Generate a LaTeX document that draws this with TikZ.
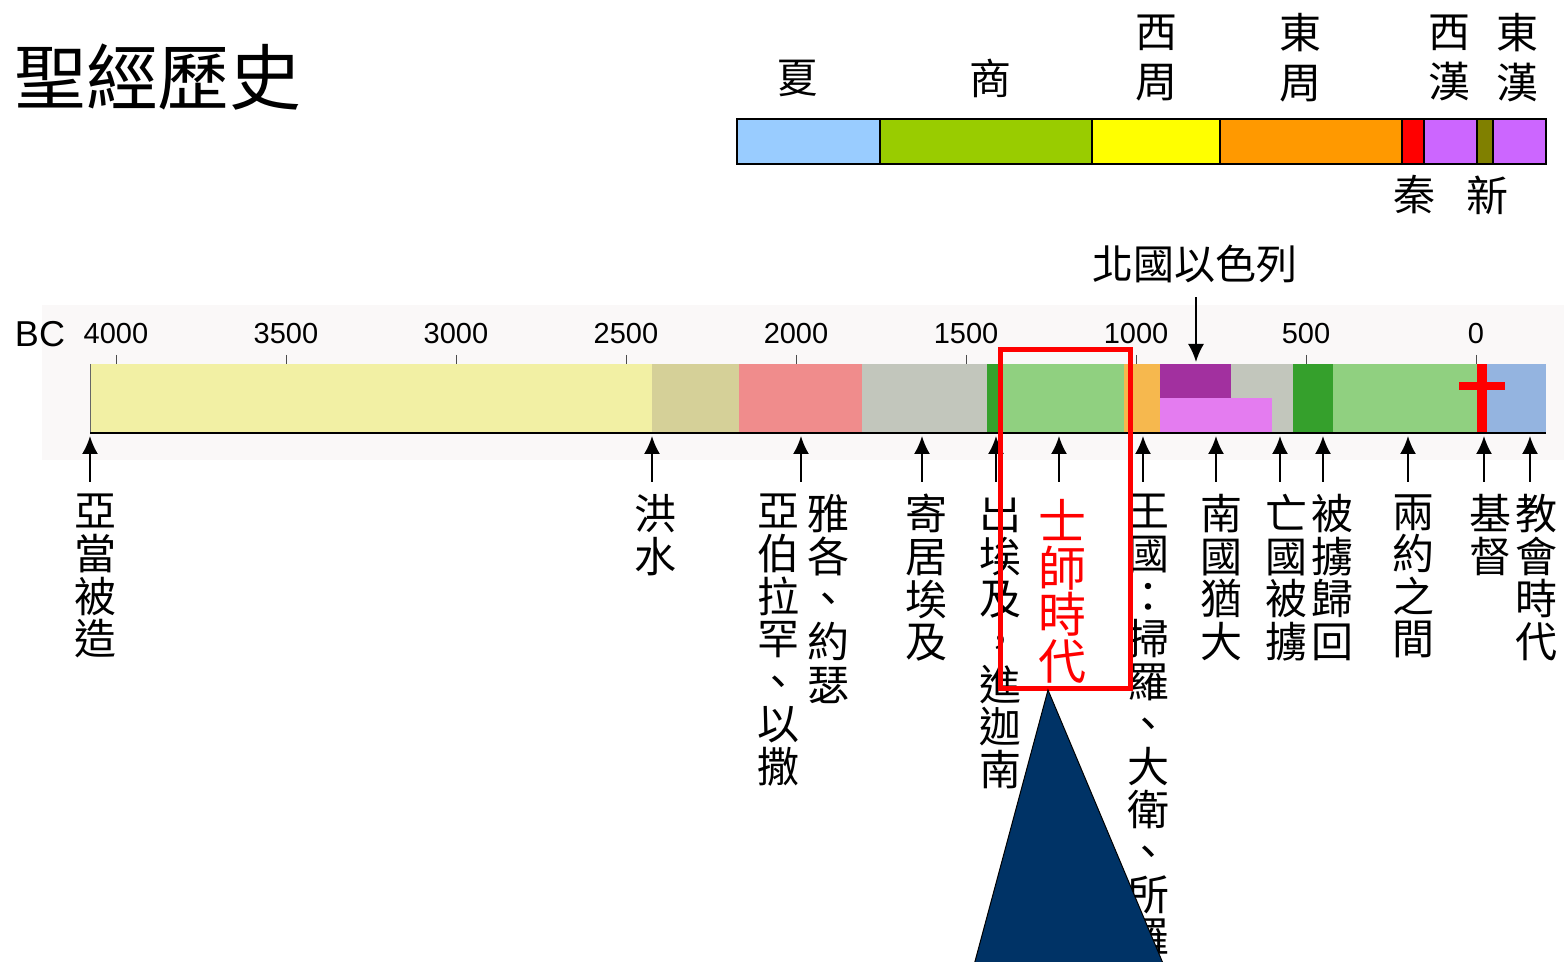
\documentclass[tikz,border=0pt]{standalone}
\usepackage{fontspec}
\setmainfont{Noto Sans CJK TC}
\newfontfamily\latinfont{Liberation Sans}
\usetikzlibrary{arrows.meta}

\definecolor{xia}{HTML}{99CCFF}
\definecolor{shang}{HTML}{99CC00}
\definecolor{zhouw}{HTML}{FFFF00}
\definecolor{zhoue}{HTML}{FF9900}
\definecolor{qin}{HTML}{FF0000}
\definecolor{han}{HTML}{CC66FF}
\definecolor{xin}{HTML}{808000}
\definecolor{bgband}{RGB}{250,248,248}
\definecolor{paleyel}{HTML}{F2F0A4}
\definecolor{khaki}{HTML}{D5D098}
\definecolor{rosy}{HTML}{F08C8C}
\definecolor{ashgray}{HTML}{C2C6BC}
\definecolor{dkgreen}{HTML}{35A02C}
\definecolor{ltgreen}{HTML}{90D080}
\definecolor{amber}{HTML}{F6B84E}
\definecolor{plum}{HTML}{A2309F}
\definecolor{violet}{HTML}{E47CF0}
\definecolor{skyblue}{HTML}{94B4E0}
\definecolor{navy}{HTML}{003366}

\tikzset{
  dyn/.style={draw=black, line width=1pt},
  dynlabel/.style={inner sep=0pt, align=center, font=\fontsize{21pt}{25pt}\selectfont},
  era/.style={inner sep=0pt, anchor=north, align=center, font=\fontsize{21pt}{21.3pt}\selectfont},
  year/.style={inner sep=0pt, font=\latinfont\fontsize{14.5pt}{14.5pt}\selectfont},
  tick/.style={line width=0.5pt, black!70},
  uparr/.style={-{Latex[length=9pt,width=8pt]}, line width=1pt, shorten <=6pt},
}

\begin{document}
\begin{tikzpicture}[x=0.5pt,y=-0.5pt]
\useasboundingbox (0,0) rectangle (1564,962);

% title
\node[inner sep=0pt, font=\fontsize{36pt}{36pt}\selectfont] (title) at (158,77) {聖經歷史};

% dynasties
\draw[dyn, fill=xia] (737,119) rectangle (880,164);
\draw[dyn, fill=shang] (880,119) rectangle (1092,164);
\draw[dyn, fill=zhouw] (1092,119) rectangle (1220,164);
\draw[dyn, fill=zhoue] (1220,119) rectangle (1402,164);
\draw[dyn, fill=qin] (1402,119) rectangle (1424,164);
\draw[dyn, fill=han] (1424,119) rectangle (1477,164);
\draw[dyn, fill=xin] (1477,119) rectangle (1493,164);
\draw[dyn, fill=han] (1493,119) rectangle (1546,164);

\node[dynlabel] (xia) at (797,78) {夏};
\node[dynlabel] (shang) at (990,78) {商};
\node[dynlabel] (zhouw) at (1156,58) {西\\周};
\node[dynlabel] (zhoue) at (1300,58) {東\\周};
\node[dynlabel] (hanw) at (1449,58) {西\\漢};
\node[dynlabel] (hane) at (1517,58) {東\\漢};
\node[dynlabel] (qin) at (1414,195) {秦};
\node[dynlabel] (xin) at (1487,195) {新};

% timeline band
\fill[bgband] (42,305) rectangle (1564,460);
\node[inner sep=0pt, font=\latinfont\fontsize{18pt}{18pt}\selectfont] (bc) at (40,334) {BC};
\node[year] (y4000) at (116,334) {4000};
\node[year] (y3500) at (286,334) {3500};
\node[year] (y3000) at (456,334) {3000};
\node[year] (y2500) at (626,334) {2500};
\node[year] (y2000) at (796,334) {2000};
\node[year] (y1500) at (966,334) {1500};
\node[year] (y1000) at (1136,334) {1000};
\node[year] (y500) at (1306,334) {500};
\node[year] (y0) at (1476,334) {0};
\draw[tick] (116,355) -- (116,364);
\draw[tick] (286,355) -- (286,364);
\draw[tick] (456,355) -- (456,364);
\draw[tick] (626,355) -- (626,364);
\draw[tick] (796,355) -- (796,364);
\draw[tick] (966,355) -- (966,364);
\draw[tick] (1136,355) -- (1136,364);
\draw[tick] (1306,355) -- (1306,364);
\draw[tick] (1476,355) -- (1476,364);

% periods
\fill[paleyel] (90,364) rectangle (652,433);
\fill[khaki] (652,364) rectangle (739,433);
\fill[rosy] (739,364) rectangle (862,433);
\fill[ashgray] (862,364) rectangle (987,433);
\fill[dkgreen] (987,364) rectangle (1002,433);
\fill[ltgreen] (1002,364) rectangle (1124,433);
\fill[amber] (1124,364) rectangle (1160,433);
\fill[ashgray] (1231,364) rectangle (1293,433);
\fill[plum] (1160,364) rectangle (1231,398);
\fill[violet] (1160,398) rectangle (1272,433);
\fill[dkgreen] (1293,364) rectangle (1333,433);
\fill[ltgreen] (1333,364) rectangle (1477,433);
\fill[skyblue] (1487,364) rectangle (1546,433);
\fill[qin] (1477,364) rectangle (1487,433);
\fill[qin] (1459,382) rectangle (1505,390);
\draw[black!60, line width=0.5pt] (90,364) -- (90,433);
\draw[black, line width=0.7pt] (90,433) -- (1546,433);

% arrow tips on the bar
\coordinate (t1) at (90,436);
\coordinate (t2) at (652,436);
\coordinate (t3) at (801,436);
\coordinate (t4) at (922,436);
\coordinate (t5) at (996,436);
\coordinate (t6) at (1059,436);
\coordinate (t7) at (1143,436);
\coordinate (t8) at (1216,436);
\coordinate (t9) at (1280,436);
\coordinate (t10) at (1323,436);
\coordinate (t11) at (1408,436);
\coordinate (t12) at (1484,436);
\coordinate (t13) at (1530,436);
\coordinate (tisr) at (1196,362);

\node[era] (adam) at (95,494) {亞\\當\\被\\造};
\node[era] (flood) at (655,494) {洪\\水};
\node[era] (abraham) at (778,494) {亞\\伯\\拉\\罕\\、\\以\\撒};
\node[era] (jacob) at (828,494) {雅\\各\\、\\約\\瑟};
\node[era] (egypt) at (926,494) {寄\\居\\埃\\及};
\node[era] (exodus) at (1000,494) {出\\埃\\及\\，\\進\\迦\\南};
\node[era, text=red, font=\fontsize{24pt}{23.3pt}\selectfont] (judges) at (1062,499) {士\\師\\時\\代};
\node[era] (kingdom) at (1148,494) {王\\國\\：\\掃\\羅\\、\\大\\衛\\、\\所\\羅};
\node[era] (judah) at (1221,494) {南\\國\\猶\\大};
\node[era] (exile) at (1286,494) {亡\\國\\被\\擄};
\node[era] (return) at (1332,494) {被\\擄\\歸\\回};
\node[era] (between) at (1413,494) {兩\\約\\之\\間};
\node[era] (christ) at (1490,494) {基\\督};
\node[era] (church) at (1536,494) {教\\會\\時\\代};
\node[dynlabel, font=\fontsize{20.5pt}{20.5pt}\selectfont] (israel) at (1195,264) {北國以色列};

\draw[uparr] (t1 |- adam.north) -- (t1);
\draw[uparr] (t2 |- flood.north) -- (t2);
\draw[uparr] (t3 |- jacob.north) -- (t3);
\draw[uparr] (t4 |- egypt.north) -- (t4);
\draw[uparr] (t5 |- exodus.north) -- (t5);
\draw[uparr, shorten <=8.5pt] (t6 |- judges.north) -- (t6);
\draw[uparr] (t7 |- kingdom.north) -- (t7);
\draw[uparr] (t8 |- judah.north) -- (t8);
\draw[uparr] (t9 |- exile.north) -- (t9);
\draw[uparr] (t10 |- return.north) -- (t10);
\draw[uparr] (t11 |- between.north) -- (t11);
\draw[uparr] (t12 |- christ.north) -- (t12);
\draw[uparr] (t13 |- church.north) -- (t13);
\draw[uparr, shorten <=7pt] (tisr |- israel.south) -- (tisr);

% judges box and pointer
\draw[red, line width=2.5pt] (1000,350) rectangle (1130,688);
\draw[black, line width=0.5pt, fill=navy] (1048,690) -- (970,980) -- (1170,980) -- cycle;

\end{tikzpicture}
\end{document}
